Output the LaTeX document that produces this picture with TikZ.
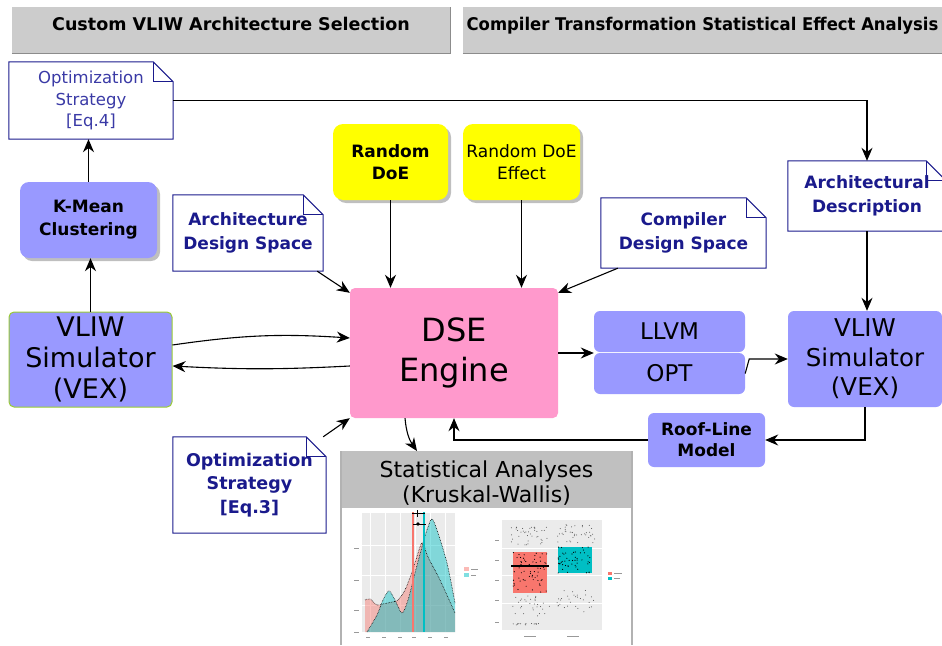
\documentclass[tikz,border=0pt]{standalone}
\usepackage{fontspec}
\setmainfont{DejaVu Sans}
\newfontfamily\narrowfont[FakeStretch=0.94]{DejaVu Sans}
\usetikzlibrary{arrows.meta,shadows,calc}

\definecolor{notenavy}{HTML}{1A1A8C}
\definecolor{notelight}{HTML}{3A3AA6}
\definecolor{toolblue}{HTML}{9999FF}
\definecolor{doeyellow}{HTML}{FFFF00}
\definecolor{dsepink}{HTML}{FF99CC}
\definecolor{headgray}{HTML}{CCCCCC}
\definecolor{headedge}{HTML}{8C8C8C}
\definecolor{statgray}{HTML}{C0C0C0}
\definecolor{simgreen}{HTML}{9ACD32}
\definecolor{ggred}{HTML}{F8766D}
\definecolor{ggteal}{HTML}{00BFC4}
\definecolor{ggpanel}{HTML}{EBEBEB}

% outline with a folded corner, drawn over a note node
\newcommand{\foldnote}[1]{%
  \draw [notenavy,line width=1pt] (#1.north west) -- ([xshift=-20pt]#1.north east)
     -- ([yshift=-20pt]#1.north east) -- (#1.south east) -- (#1.south west) -- cycle;
  \draw [notenavy,line width=1pt] ([xshift=-20pt]#1.north east) |- ([yshift=-20pt]#1.north east);}

\begin{document}
\begin{tikzpicture}[x=1pt,y=-1pt,
    flow/.style={-{Stealth[length=13pt,width=11pt]},line width=1.1pt},
    header/.style={fill=headgray,inner sep=0pt,text height=13pt,text depth=12pt,
      font=\fontsize{17.5}{20}\selectfont\bfseries},
    note/.style={fill=white,inner sep=0pt,align=center,text=notenavy,
      font=\fontsize{17}{24}\selectfont\bfseries},
    tool/.style={fill=toolblue,inner sep=0pt,align=center,rounded corners=6pt},
    doe/.style={fill=doeyellow,inner sep=0pt,align=center,rounded corners=10pt,
      font=\fontsize{17}{22}\selectfont},
    soft/.style={drop shadow={shadow xshift=3pt,shadow yshift=-3pt,opacity=0.25,fill=black}}]
  \useasboundingbox (0,0) rectangle (942,645);
  \clip (0,0) rectangle (942,645);

  % section headers
  \node [header,minimum width=438pt,minimum height=46pt] (selhead) at (231,30) {Custom VLIW Architecture Selection};
  \node [header,minimum width=479pt,minimum height=46pt,
    font=\fontsize{17.5}{20}\narrowfont\bfseries] (anahead) at (702.5,30) {Compiler Transformation Statistical Effect Analysis};
  \draw [headedge,line width=1.2pt] (selhead.south west) -- (selhead.south east) -- (selhead.north east);
  \draw [headedge,line width=1.2pt] (anahead.south west) -- (anahead.south east);

  % notes
  \node [note,minimum width=164pt,minimum height=77pt,text=notelight,
    font=\fontsize{16.5}{21.5}\selectfont] (optfour) at (91,100.5) {Optimization\\Strategy\\{[Eq.4]}};
  \node [note,minimum width=150pt,minimum height=76pt] (archds) at (248,233) {Architecture\\Design Space};
  \node [note,minimum width=165pt,minimum height=70pt] (compds) at (683.5,233) {Compiler\\Design Space};
  \node [note,minimum width=158pt,minimum height=70pt] (archdesc) at (867,196) {Architectural\\Description};
  \node [note,minimum width=153pt,minimum height=96pt,
    font=\fontsize{17.5}{23.5}\selectfont\bfseries] (optthree) at (249.5,485) {Optimization\\Strategy\\{[Eq.3]}};
  \foldnote{optfour}
  \foldnote{archds}
  \foldnote{compds}
  \foldnote{archdesc}
  \foldnote{optthree}

  % tools and engine
  \node [tool,soft,minimum width=137pt,minimum height=76pt,rounded corners=9pt,
    font=\fontsize{17}{23}\selectfont\bfseries] (kmean) at (88.5,220) {K-Mean\\Clustering};
  \node [tool,draw=simgreen,line width=1pt,rounded corners=5pt,minimum width=163pt,minimum height=95pt,
    font=\fontsize{27}{31}\selectfont] (vliwsim) at (90.5,359.5) {VLIW\\Simulator\\(VEX)};
  \node [doe,soft,minimum width=115pt,minimum height=76pt,font=\fontsize{17}{22}\selectfont\bfseries] (rdoe) at (390.5,162) {Random\\DoE};
  \node [doe,soft,minimum width=117pt,minimum height=76pt] (rdoeeff) at (521.5,162) {Random DoE\\Effect};
  \node [fill=dsepink,rounded corners=5pt,align=center,minimum width=208pt,minimum height=130pt,
    font=\fontsize{32}{40}\selectfont] (dse) at (454,353) {DSE\\Engine};
  \node [tool,minimum width=151pt,minimum height=41pt,font=\fontsize{23}{28}\selectfont] (llvm) at (669.5,331.5) {LLVM};
  \node [tool,minimum width=151pt,minimum height=41pt,font=\fontsize{23}{28}\selectfont] (opt) at (669.5,373.5) {OPT};
  \node [tool,minimum width=154pt,minimum height=96pt,font=\fontsize{24.5}{29.5}\selectfont] (vliwexec) at (865,359) {VLIW\\Simulator\\(VEX)};
  \node [tool,minimum width=117pt,minimum height=54pt,font=\fontsize{17}{21}\selectfont\bfseries] (roof) at (706.5,440) {Roof-Line\\Model};

  % statistics panel
  \fill [statgray] (341,451) rectangle (632,508);
  \draw [black!30,line width=1.5pt] (341,451) -- (341,645) (632,451) -- (632,645);
  \node [align=center,font=\fontsize{22}{25}\selectfont] (stats) at (486.5,483) {Statistical Analyses\\(Kruskal-Wallis)};
  \coordinate (statstop) at (417,451);

  % density plot
  \fill [ggpanel] (362,513) rectangle (455,632);
  \foreach \gx in {370,385,400,415,430,445} \draw [white,line width=.4pt] (\gx,513) -- (\gx,632);
  \foreach \gy in {545,575,605} \draw [white,line width=.4pt] (362,\gy) -- (455,\gy);
  \fill [ggred,opacity=.45] (365,632) -- plot[smooth] coordinates {(365,600) (370,599) (377,605) (383,604) (392,602) (398,600) (405,590) (412,572) (420,547) (423,543) (428,557) (440,580) (455,613)} -- (455,632) -- cycle;
  \fill [ggteal,opacity=.45] (367,632) -- plot[smooth] coordinates {(367,632) (377,615) (383,600) (389,591) (395,600) (402,613) (408,600) (415,573) (423,543) (428,527) (432,519) (437,530) (447,563) (455,603)} -- (455,632) -- cycle;
  \draw [densely dotted,line width=.6pt] plot[smooth] coordinates {(365,600) (370,599) (377,605) (383,604) (392,602) (398,600) (405,590) (412,572) (420,547) (423,543) (428,557) (440,580) (455,613)};
  \draw [densely dotted,line width=.6pt] plot[smooth] coordinates {(367,632) (377,615) (383,600) (389,591) (395,600) (402,613) (408,600) (415,573) (423,543) (428,527) (432,519) (437,530) (447,563) (455,603)};
  \draw [ggred,line width=2.5pt] (413,512) -- (413,632);
  \draw [ggteal,line width=2.5pt] (424,512) -- (424,632);
  \draw [line width=1pt] (412,513) -- (425,513) (417,510) -- (417,517) (413,524) -- (426,524);
  \fill (418,524) circle (1.8);
  \foreach \ty in {548,580,610,632} \draw [black!40,line width=.8pt] (354,\ty) -- (359,\ty);
  \foreach \tx in {368,384,400,414,430,446} \draw [black!40,line width=.8pt] (\tx-2,637) -- (\tx+2,637);
  \fill [ggred!50] (464,567) rectangle (469,571);
  \fill [ggteal!50] (464,573) rectangle (469,577);
  \draw [black!40,line width=.6pt] (471,569) -- (478,569) (471,575) -- (476,575);

  % box plot
  \fill [ggpanel] (502,520) rectangle (602,630);
  \foreach \gy in {548,575,603} \draw [white,line width=.4pt] (502,\gy) -- (602,\gy);
  \fill [ggred] (513,552) rectangle (547,593);
  \fill [ggteal] (558,547) rectangle (592,573);
  \draw [line width=1.2pt] (511,566) -- (549,566);
  \pgfmathsetseed{11}
  \foreach \k in {1,...,60} \fill ({513+34*rnd},{552+41*rnd}) circle (.6);
  \foreach \k in {1,...,50} \fill ({558+34*rnd},{547+26*rnd}) circle (.6);
  \foreach \k in {1,...,40} \fill [black!70] ({510+40*rnd},{527+18*rnd}) circle (.5);
  \foreach \k in {1,...,40} \fill [black!70] ({555+40*rnd},{524+20*rnd}) circle (.5);
  \foreach \k in {1,...,30} \fill [black!70] ({512+38*rnd},{596+20*rnd}) circle (.5);
  \foreach \k in {1,...,30} \fill [black!70] ({556+38*rnd},{590+22*rnd}) circle (.5);
  \foreach \k in {1,...,15} \fill [black!70] ({510+30*rnd},{623+2*rnd}) circle (.5);
  \foreach \ty in {540,560,580,600,622} \draw [black!40,line width=.8pt] (495,\ty) -- (499,\ty);
  \draw [black!40,line width=.8pt] (524,636) -- (536,636) (567,636) -- (579,636);
  \fill [ggred] (608,572) rectangle (612,575);
  \fill [ggteal] (608,577) rectangle (612,580);
  \draw [black!40,line width=.6pt] (614,573) -- (622,573) (614,578) -- (620,578);

  % connectors
  \draw [flow] (optfour.east) -| (archdesc.north);
  \draw [flow] (kmean.north) -- (kmean.north |- optfour.south);
  \draw [flow] (vliwsim.north) -- (vliwsim.north |- kmean.south);
  \draw [flow] ([yshift=14.5pt]vliwsim.east) to[bend left=6] ([yshift=15pt]dse.west);
  \draw [flow] ([yshift=-13pt]dse.west) to[bend left=3] ([yshift=-6.5pt]vliwsim.east);
  \draw [flow] ([xshift=-6pt]archds.south east) -- ([yshift=-5pt]dse.north west);
  \draw [flow] (rdoe.south) -- (rdoe.south |- dse.north);
  \draw [flow] (rdoeeff.south) -- (rdoeeff.south |- dse.north);
  \draw [flow] ([xshift=17pt]compds.south west) -- ([yshift=-5pt]dse.north east);
  \draw [flow] (dse.east) -- (dse.east -| llvm.west);
  \draw [flow] (opt.east) -- ([xshift=4pt]opt.east |- vliwexec.west) -- (vliwexec.west);
  \draw [flow] (archdesc.south) -- (archdesc.south |- vliwexec.north);
  \draw [flow] (vliwexec.south) |- (roof.east);
  \draw [flow] (roof.west) -| (dse.south);
  \draw [flow] ([xshift=-3pt]optthree.north east) -- (dse.south west);
  \draw [flow] ([xshift=-49pt]dse.south) to[bend right=15] (statstop);
\end{tikzpicture}
\end{document}
